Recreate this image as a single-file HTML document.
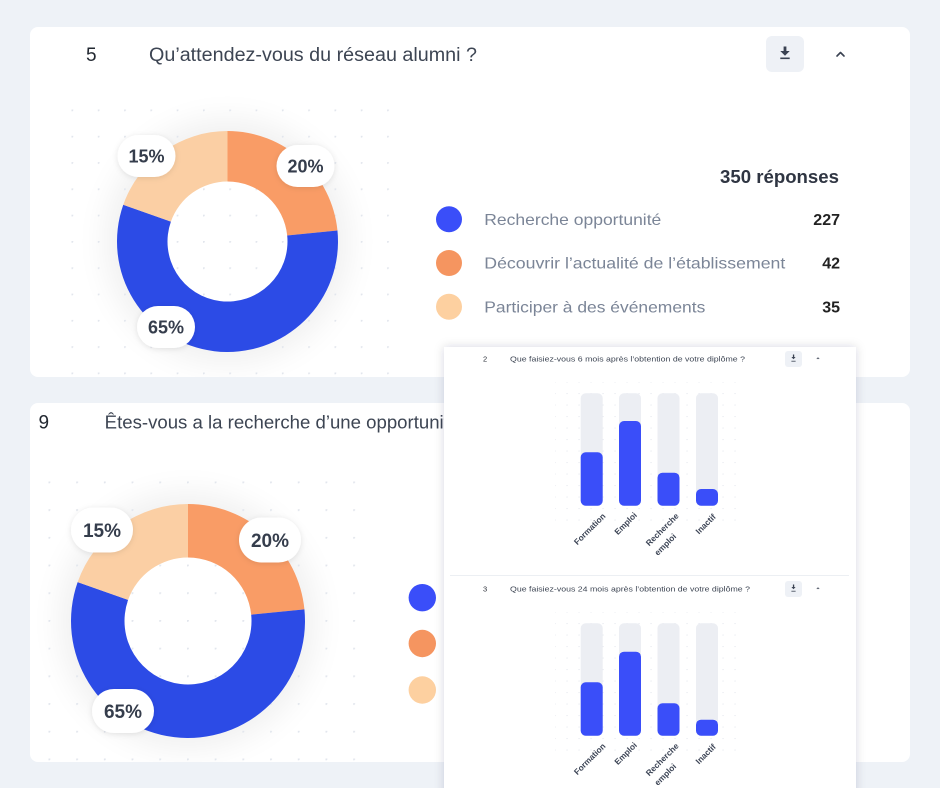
<!DOCTYPE html>
<html><head><meta charset="utf-8"><style>
html,body{margin:0;padding:0;background:#eef2f7;}
svg{display:block;}
text{font-family:"Liberation Sans",sans-serif;}
</style></head><body>
<svg width="940" height="788" viewBox="0 0 940 788" xmlns="http://www.w3.org/2000/svg">
<defs>
  <filter id="glow" x="-50%" y="-50%" width="200%" height="200%"><feGaussianBlur stdDeviation="16"/></filter>
  <filter id="pill" x="-40%" y="-40%" width="180%" height="180%"><feDropShadow dx="0" dy="1" stdDeviation="3" flood-color="#000" flood-opacity="0.10"/></filter>
  <filter id="panel" x="-10%" y="-10%" width="120%" height="120%"><feDropShadow dx="0" dy="0" stdDeviation="5" flood-color="#1a2340" flood-opacity="0.16"/></filter>
  <pattern id="dots1" x="71.5" y="109.5" width="26.3" height="26.3" patternUnits="userSpaceOnUse"><circle cx="0.5" cy="0.5" r="1.3" fill="#e2e6ed"/></pattern>
  <pattern id="dots2" x="48.5" y="481.5" width="27.7" height="27.7" patternUnits="userSpaceOnUse"><circle cx="0.5" cy="0.5" r="1.4" fill="#e2e6ed"/></pattern>
  <pattern id="dots3" x="554.5" y="381.5" width="12" height="11.5" patternUnits="userSpaceOnUse"><circle cx="0.5" cy="0.5" r="0.7" fill="#e6e9ef"/></pattern>
  <clipPath id="c1"><rect x="30" y="27" width="880" height="350" rx="8"/></clipPath>
  <clipPath id="c2"><rect x="30" y="403" width="880" height="359" rx="8"/></clipPath>
</defs>

<!-- Card 1 -->
<rect x="30" y="27" width="880" height="350" rx="8" fill="#ffffff"/>
<g clip-path="url(#c1)">
  <circle cx="227.5" cy="241.5" r="122" fill="#000" opacity="0.06" filter="url(#glow)"/>
  <circle cx="227.5" cy="241.5" r="61" fill="#ffffff"/>
  <rect x="60" y="100" width="335" height="280" fill="url(#dots1)"/>
</g>
<text x="86" y="61" font-size="19" fill="#222831">5</text>
<text x="149" y="61" font-size="19" fill="#3d4553" textLength="328" lengthAdjust="spacingAndGlyphs">Qu’attendez-vous du réseau alumni ?</text>
<rect x="766" y="36" width="38" height="36" rx="6" fill="#eef1f6"/>
<g fill="#3a4252">
  <rect x="783.6" y="46.5" width="2.8" height="5"/>
  <polygon points="780.3,51 789.7,51 785,55.8"/>
  <rect x="780.3" y="57.5" width="9.4" height="1.6"/>
</g>
<polyline points="837,56 840.5,52.5 844,56" fill="none" stroke="#3a4252" stroke-width="1.6" stroke-linecap="round" stroke-linejoin="round"/>

<!-- Donut 1 -->
<path d="M227.5,131 A110.5,110.5 0 0 1 337.45,230.53 L287.2,235.54 A60,60 0 0 0 227.5,181.5 Z" fill="#f99c66"/>
<path d="M337.45,230.53 A110.5,110.5 0 1 1 123.27,204.8 L170.91,221.57 A60,60 0 1 0 287.2,235.54 Z" fill="#2c4be6"/>
<path d="M123.27,204.8 A110.5,110.5 0 0 1 227.5,131 L227.5,181.5 A60,60 0 0 0 170.91,221.57 Z" fill="#fbcfa4"/>
<g filter="url(#pill)">
  <rect x="117.5" y="135" width="58" height="42" rx="21" fill="#fff"/>
  <rect x="276.5" y="145" width="58" height="42" rx="21" fill="#fff"/>
  <rect x="137" y="306" width="58" height="42" rx="21" fill="#fff"/>
</g>
<g font-size="18" font-weight="bold" fill="#353d4c" text-anchor="middle">
  <text x="146.5" y="162.5">15%</text>
  <text x="305.5" y="172.5">20%</text>
  <text x="166" y="333.5">65%</text>
</g>

<!-- Legend 1 -->
<text x="839" y="183" font-size="18" font-weight="bold" fill="#2f3542" text-anchor="end" textLength="119" lengthAdjust="spacingAndGlyphs">350 réponses</text>
<circle cx="449" cy="219.3" r="13" fill="#3a4ef9"/>
<circle cx="449" cy="263" r="13" fill="#f59560"/>
<circle cx="449" cy="306.7" r="13" fill="#fdd0a0"/>
<g font-size="16" fill="#7b8597">
  <text x="484.3" y="225" textLength="177" lengthAdjust="spacingAndGlyphs">Recherche opportunité</text>
  <text x="484.3" y="268.6" textLength="301" lengthAdjust="spacingAndGlyphs">Découvrir l’actualité de l’établissement</text>
  <text x="484.3" y="312.3" textLength="221" lengthAdjust="spacingAndGlyphs">Participer à des événements</text>
</g>
<g font-size="16" font-weight="bold" fill="#222222" text-anchor="end">
  <text x="840" y="225">227</text>
  <text x="840" y="268.6">42</text>
  <text x="840" y="312.3">35</text>
</g>

<!-- Card 2 -->
<rect x="30" y="403" width="880" height="359" rx="8" fill="#ffffff"/>
<g clip-path="url(#c2)">
  <circle cx="188" cy="621" r="128" fill="#000" opacity="0.06" filter="url(#glow)"/>
  <circle cx="188" cy="621" r="64.5" fill="#ffffff"/>
  <rect x="40" y="470" width="320" height="295" fill="url(#dots2)"/>
</g>
<text x="38.5" y="428.5" font-size="19" fill="#222831">9</text>
<text x="104.7" y="428.5" font-size="18.5" fill="#3d4553" textLength="370" lengthAdjust="spacingAndGlyphs">Êtes-vous a la recherche d’une opportunité ?</text>

<!-- Donut 2 -->
<path d="M188,504 A117,117 0 0 1 304.42,609.38 L251.19,614.69 A63.5,63.5 0 0 0 188,557.5 Z" fill="#f99c66"/>
<path d="M304.42,609.38 A117,117 0 1 1 77.64,582.14 L128.11,599.91 A63.5,63.5 0 1 0 251.19,614.69 Z" fill="#2c4be6"/>
<path d="M77.64,582.14 A117,117 0 0 1 188,504 L188,557.5 A63.5,63.5 0 0 0 128.11,599.91 Z" fill="#fbcfa4"/>
<g filter="url(#pill)">
  <rect x="71" y="507.5" width="62" height="45" rx="22.5" fill="#fff"/>
  <rect x="239" y="517.5" width="62" height="45" rx="22.5" fill="#fff"/>
  <rect x="92" y="689" width="62" height="44" rx="22" fill="#fff"/>
</g>
<g font-size="19" font-weight="bold" fill="#353d4c" text-anchor="middle">
  <text x="102" y="537">15%</text>
  <text x="270" y="547">20%</text>
  <text x="123" y="718">65%</text>
</g>
<circle cx="422.3" cy="597.7" r="13.7" fill="#3a4ef9"/>
<circle cx="422.3" cy="643.5" r="13.7" fill="#f59560"/>
<circle cx="422.3" cy="690" r="13.7" fill="#fdd0a0"/>

<!-- Overlay panel -->
<rect x="444" y="347" width="412" height="460" fill="#ffffff" filter="url(#panel)"/>
<rect x="444" y="347" width="412" height="460" fill="#ffffff"/>
<line x1="450" y1="575.5" x2="849" y2="575.5" stroke="#eceff3" stroke-width="1"/>

<!-- Section A -->
<g>
  <text x="483" y="361.5" font-size="7.5" fill="#2a2f38">2</text>
  <text x="510" y="361.5" font-size="7.5" fill="#3d4553" textLength="235" lengthAdjust="spacingAndGlyphs">Que faisiez-vous 6 mois après l’obtention de votre diplôme ?</text>
  <rect x="785" y="351" width="17" height="16" rx="3" fill="#eef1f6"/>
  <g fill="#3a4252">
    <rect x="792.9" y="354.5" width="1.3" height="2.6"/>
    <polygon points="791.4,357 795.6,357 793.5,359.3"/>
    <rect x="791.4" y="360.8" width="4.2" height="0.8"/>
  </g>
  <polyline points="816.8,359 818,357.8 819.2,359" fill="none" stroke="#3a4252" stroke-width="0.8"/>
  <rect x="555" y="382" width="190" height="140" fill="url(#dots3)"/>
  <g fill="#eceef3">
    <rect x="580.7" y="393.3" width="22" height="112.4" rx="5"/>
    <rect x="619" y="393.3" width="22" height="112.4" rx="5"/>
    <rect x="657.5" y="393.3" width="22" height="112.4" rx="5"/>
    <rect x="696" y="393.3" width="22" height="112.4" rx="5"/>
  </g>
  <g fill="#3a4ef9">
    <rect x="580.7" y="452.3" width="22" height="53.4" rx="5"/>
    <rect x="619" y="421" width="22" height="84.7" rx="5"/>
    <rect x="657.5" y="472.7" width="22" height="33" rx="5"/>
    <rect x="696" y="489" width="22" height="16.7" rx="5"/>
  </g>
  <g font-size="8.3" font-weight="bold" fill="#3d4556" text-anchor="middle">
    <text transform="translate(591.7,531) rotate(-45)">Formation</text>
    <text transform="translate(627.7,525.5) rotate(-45)">Emploi</text>
    <text transform="translate(664.3,531.5) rotate(-45)">Recherche</text>
    <text transform="translate(667.3,546.5) rotate(-45)">emploi</text>
    <text transform="translate(707.7,526) rotate(-45)">Inactif</text>
  </g>
</g>

<!-- Section B -->
<g>
  <text x="483" y="591.5" font-size="7.5" fill="#2a2f38">3</text>
  <text x="510" y="591.5" font-size="7.5" fill="#3d4553" textLength="240" lengthAdjust="spacingAndGlyphs">Que faisiez-vous 24 mois après l’obtention de votre diplôme ?</text>
  <rect x="785" y="581" width="17" height="16" rx="3" fill="#eef1f6"/>
  <g fill="#3a4252">
    <rect x="792.9" y="584.5" width="1.3" height="2.6"/>
    <polygon points="791.4,587 795.6,587 793.5,589.3"/>
    <rect x="791.4" y="590.8" width="4.2" height="0.8"/>
  </g>
  <polyline points="816.8,589 818,587.8 819.2,589" fill="none" stroke="#3a4252" stroke-width="0.8"/>
  <rect x="555" y="612" width="190" height="140" fill="url(#dots3)"/>
  <g fill="#eceef3">
    <rect x="580.7" y="623.3" width="22" height="112.4" rx="5"/>
    <rect x="619" y="623.3" width="22" height="112.4" rx="5"/>
    <rect x="657.5" y="623.3" width="22" height="112.4" rx="5"/>
    <rect x="696" y="623.3" width="22" height="112.4" rx="5"/>
  </g>
  <g fill="#3a4ef9">
    <rect x="580.7" y="682.3" width="22" height="53.4" rx="5"/>
    <rect x="619" y="651.7" width="22" height="84" rx="5"/>
    <rect x="657.5" y="703.3" width="22" height="32.4" rx="5"/>
    <rect x="696" y="719.7" width="22" height="16" rx="5"/>
  </g>
  <g font-size="8.3" font-weight="bold" fill="#3d4556" text-anchor="middle">
    <text transform="translate(591.7,761) rotate(-45)">Formation</text>
    <text transform="translate(627.7,755.5) rotate(-45)">Emploi</text>
    <text transform="translate(664.3,761.5) rotate(-45)">Recherche</text>
    <text transform="translate(667.3,776.5) rotate(-45)">emploi</text>
    <text transform="translate(707.7,756) rotate(-45)">Inactif</text>
  </g>
</g>
</svg>
</body></html>
